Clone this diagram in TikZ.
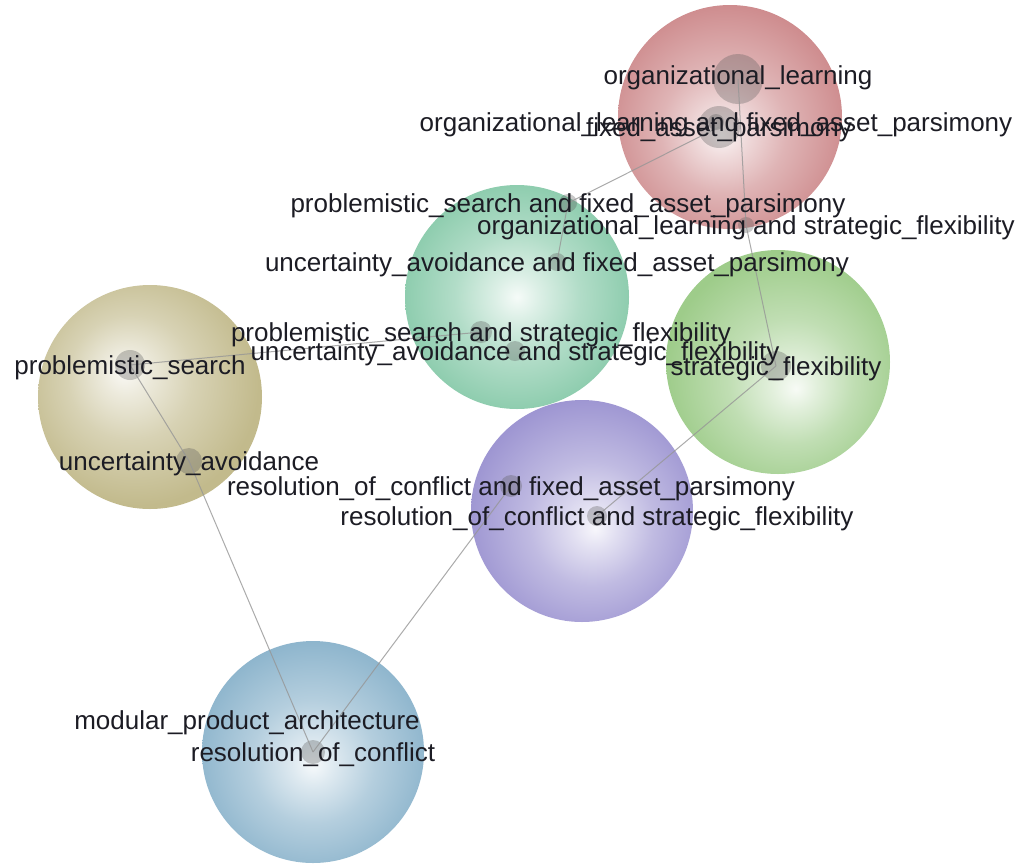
\documentclass[tikz,border=0pt]{standalone}
\usepackage{fontspec}
\setmainfont{Liberation Sans}

% cluster colours
\definecolor{cred}{RGB}{206,140,142}
\definecolor{cteal}{RGB}{136,202,170}
\definecolor{cgreen}{RGB}{158,204,138}
\definecolor{ckhaki}{RGB}{194,186,140}
\definecolor{cpurple}{RGB}{158,150,210}
\definecolor{cblue}{RGB}{140,180,204}
\definecolor{edgegray}{RGB}{150,150,150}
\definecolor{labelink}{RGB}{28,28,36}

% glossy ball shading: soft white highlight fading into the cluster colour
\newcommand{\ballshading}[4]{%
  \pgfdeclareradialshading{#1}{\pgfpoint{#3}{#4}}{%
    color(0bp)=(white!92!#2); color(5bp)=(white!70!#2); color(14bp)=(white!35!#2);
    color(27bp)=(#2); color(50bp)=(#2)}}
\ballshading{ballred}{cred}{-2bp}{-4bp}
\ballshading{ballteal}{cteal}{0bp}{0bp}
\ballshading{ballgreen}{cgreen}{4bp}{-6bp}
\ballshading{ballkhaki}{ckhaki}{-6bp}{6bp}
\ballshading{ballpurple}{cpurple}{3bp}{-4bp}
\ballshading{ballblue}{cblue}{0bp}{-3bp}

\tikzset{
  dot/.style={circle, inner sep=0pt, fill=black!65, fill opacity=0.32, draw=none},
  lbl/.style={anchor=base, yshift=-9pt, inner sep=0pt, text=labelink,
              font=\fontsize{26}{26}\selectfont},
  link/.style={draw=edgegray, line width=1pt, draw opacity=0.8}
}

\begin{document}
\begin{tikzpicture}[x=1pt,y=-1pt]
\useasboundingbox (0,0) rectangle (1025,863);
\fill[white] (0,0) rectangle (1025,863);

% cluster balls
\shade[shading=ballred]    (730,117) circle[radius=112pt];
\shade[shading=ballteal]   (517,297) circle[radius=112pt];
\shade[shading=ballgreen]  (778,362) circle[radius=112pt];
\shade[shading=ballkhaki]  (150,397) circle[radius=112pt];
\shade[shading=ballpurple] (582,511) circle[radius=111pt];
\shade[shading=ballblue]   (313,752) circle[radius=111pt];

% concept nodes
\node[dot, minimum size=50pt] (ol)    at (738,79)  {};
\node[dot, minimum size=16pt] (olfap) at (716,122) {};
\node[dot, minimum size=42pt] (fap)   at (719,127) {};
\node[dot, minimum size=18pt] (psfap) at (568,203) {};
\node[dot, minimum size=16pt] (olsf)  at (746,225) {};
\node[dot, minimum size=18pt] (uafap) at (557,262) {};
\node[dot, minimum size=22pt] (pssf)  at (481,332) {};
\node[dot, minimum size=20pt] (uasf)  at (515,351) {};
\node[dot, minimum size=30pt] (sf)    at (776,366) {};
\node[dot, minimum size=30pt] (ps)    at (130,365) {};
\node[dot, minimum size=26pt] (ua)    at (189,461) {};
\node[dot, minimum size=22pt] (rocfap) at (511,486) {};
\node[dot, minimum size=20pt] (rocsf) at (597,516) {};
\node[inner sep=0pt, minimum size=2pt] (mpa) at (247,720) {};
\node[dot, minimum size=24pt] (roc)   at (313,752) {};

% links
\draw[link] (ol.center) -- (olsf.center);
\draw[link] (olsf.center) -- (sf.center);
\draw[link] (fap.center) -- (psfap.center);
\draw[link] (psfap.center) -- (uafap.center);
\draw[link] (ps.center) -- (pssf.center);
\draw[link] (ps.center) -- (ua.center);
\draw[link] (ua.center) -- (roc.center);
\draw[link] (roc.center) -- (rocfap.center);
\draw[link] (rocsf.center) -- (sf.center);

% labels
\node[lbl] at (738,75) {organizational\_learning};
\node[lbl] at (olfap)  {organizational\_learning and fixed\_asset\_parsimony};
\node[lbl] at (fap)    {fixed\_asset\_parsimony};
\node[lbl] at (psfap)  {problemistic\_search and fixed\_asset\_parsimony};
\node[lbl] at (olsf)   {organizational\_learning and strategic\_flexibility};
\node[lbl] at (uafap)  {uncertainty\_avoidance and fixed\_asset\_parsimony};
\node[lbl] at (pssf)   {problemistic\_search and strategic\_flexibility};
\node[lbl] at (uasf)   {uncertainty\_avoidance and strategic\_flexibility};
\node[lbl] at (sf)     {strategic\_flexibility};
\node[lbl] at (ps)     {problemistic\_search};
\node[lbl] at (ua)     {uncertainty\_avoidance};
\node[lbl] at (rocfap) {resolution\_of\_conflict and fixed\_asset\_parsimony};
\node[lbl] at (rocsf)  {resolution\_of\_conflict and strategic\_flexibility};
\node[lbl] at (mpa)    {modular\_product\_architecture};
\node[lbl] at (roc)    {resolution\_of\_conflict};
\end{tikzpicture}
\end{document}
